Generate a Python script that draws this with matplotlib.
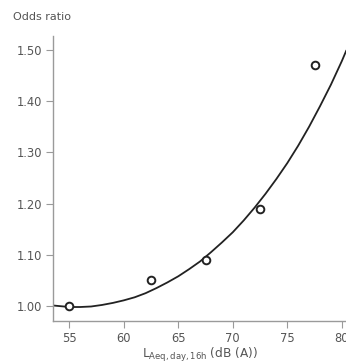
import numpy as np
import matplotlib.pyplot as plt

# observed odds ratios per noise band
noise_levels = [55.0, 62.5, 67.5, 72.5, 77.5]
odds_ratios = [1.00, 1.05, 1.09, 1.19, 1.47]

# fitted curve at 1 dB steps
curve_levels = [53.5, 54, 55, 56, 57, 58, 59, 60, 61, 62, 63, 64, 65, 66,
                67, 68, 69, 70, 71, 72, 73, 74, 75, 76, 77, 78, 79, 80, 80.4]
curve_odds = [1.001, 1.000, 0.998, 0.998, 0.999, 1.002, 1.006, 1.011, 1.017,
              1.025, 1.035, 1.046, 1.058, 1.072, 1.087, 1.105, 1.124, 1.144,
              1.167, 1.192, 1.219, 1.248, 1.279, 1.313, 1.350, 1.390, 1.432,
              1.478, 1.498]

x_ticks = [55, 60, 65, 70, 75, 80]
y_ticks = [1.00, 1.10, 1.20, 1.30, 1.40, 1.50]

text_grey = "#555555"
axis_grey = "#9a9a9a"

fig = plt.figure(figsize=(3.46, 3.64), dpi=100)
ax = fig.add_axes([0.154, 0.119, 0.846, 0.782])

ax.plot(curve_levels, curve_odds, color="#222222", lw=1.3, zorder=2)
ax.plot(noise_levels, odds_ratios, "o", mfc="white", mec="#222222",
        mew=1.4, ms=5.5, zorder=3, clip_on=False)

ax.set_xlim(53.53, 80.385)
ax.set_ylim(0.9713, 1.527)
ax.set_xticks(x_ticks)
ax.set_yticks(y_ticks)
ax.set_yticklabels([f"{v:.2f}" for v in y_ticks])

for side in ["top", "right"]:
    ax.spines[side].set_visible(False)
for side in ["left", "bottom"]:
    ax.spines[side].set_color(axis_grey)
    ax.spines[side].set_linewidth(1.0)

ax.tick_params(axis="both", colors=axis_grey, labelcolor=text_grey,
               labelsize=8.3, length=5, width=0.8, pad=3)

ax.set_xlabel(r"L$_{\mathregular{Aeq,day,16h}}$ (dB (A))",
              fontsize=8.7, color=text_grey, labelpad=1)

fig.text(12.7 / 346, 1 - 17 / 364, "Odds ratio", fontsize=8,
         color=text_grey, ha="left", va="center")

fig.savefig("out.png", dpi=100)
